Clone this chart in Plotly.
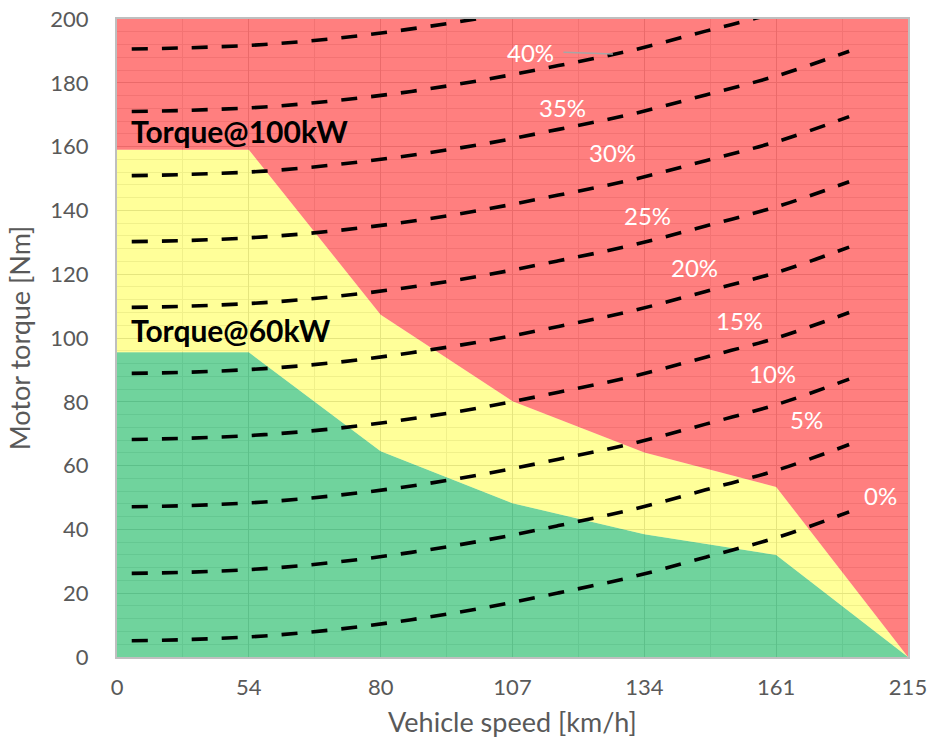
import plotly.graph_objects as go

# Speed categories of the motor operating map (evenly spaced on the x axis)
categories = ["0", "54", "80", "107", "134", "161", "215"]

# Torque limits [Nm] at each speed category
torque_60kw = [95.5, 95.5, 64.5, 48.2, 38.5, 32.0, 0.0]
torque_100kw = [159.0, 159.0, 107.3, 80.2, 64.1, 53.3, 0.0]
torque_ceiling = [200.0, 200.0, 200.0, 200.0, 200.0, 200.0, 200.0]

# Road-load torque curves for different gradients, vs. vehicle speed [km/h]
load_speeds = [4, 20, 40, 60, 80, 100, 120, 140, 160, 180, 199]
grade_labels = ["0%", "5%", "10%", "15%", "20%", "25%", "30%", "35%", "40%", "45%"]
load_torque = [
    [5.1, 5.5, 6.6, 8.7, 11.7, 15.5, 20.1, 25.1, 31.3, 37.7, 45.5],
    [26.2, 26.6, 27.7, 29.8, 32.8, 36.6, 41.2, 46.2, 52.4, 58.8, 66.6],
    [47.1, 47.5, 48.6, 50.7, 53.6, 57.4, 62.0, 66.9, 73.0, 79.4, 87.1],
    [68.2, 68.6, 69.7, 71.7, 74.7, 78.4, 83.0, 87.9, 94.0, 100.3, 108.0],
    [88.9, 89.3, 90.4, 92.4, 95.4, 99.1, 103.6, 108.5, 114.6, 120.8, 128.5],
    [109.6, 110.0, 111.1, 113.1, 116.0, 119.7, 124.2, 129.1, 135.1, 141.4, 149.0],
    [130.2, 130.6, 131.7, 133.7, 136.6, 140.3, 144.8, 149.6, 155.6, 161.8, 169.4],
    [150.9, 151.3, 152.3, 154.4, 157.3, 160.9, 165.4, 170.2, 176.2, 182.4, 189.9],
    [171.0, 171.4, 172.4, 174.5, 177.3, 181.0, 185.4, 190.2, 196.2, 202.3, 209.8],
    [190.6, 191.0, 192.0, 194.0, 196.9, 200.5, 204.9, 209.6, 215.5, 221.6, 229.0],
]

FONT = "Lato"
GREY = "#595959"

cat_pos = list(range(len(categories)))

fig = go.Figure()

# Operating regions: green up to 60 kW, yellow up to 100 kW, red above
fig.add_trace(go.Scatter(x=cat_pos, y=torque_60kw, mode="lines", line=dict(width=0),
                         fill="tozeroy", fillcolor="rgba(0,176,80,0.56)", hoverinfo="skip"))
fig.add_trace(go.Scatter(x=cat_pos, y=torque_100kw, mode="lines", line=dict(width=0),
                         fill="tonexty", fillcolor="rgba(255,255,0,0.40)", hoverinfo="skip"))
fig.add_trace(go.Scatter(x=cat_pos, y=torque_ceiling, mode="lines", line=dict(width=0),
                         fill="tonexty", fillcolor="rgba(255,0,0,0.50)", hoverinfo="skip"))

# Road-load curves on a hidden linear speed axis
for values in load_torque:
    fig.add_trace(go.Scatter(x=load_speeds, y=values, xaxis="x2", yaxis="y",
                             mode="lines", line=dict(color="black", width=3.6,
                                                     dash="16px,14px", shape="spline"),
                             hoverinfo="skip"))

# Gradient labels (speed, torque) placed above each curve
label_spots = [(207.4, 50.7), (187.5, 74.3), (178.3, 89.0), (169.3, 105.6),
               (157.1, 122.2), (144.1, 138.5), (134.8, 158.0), (121.2, 172.4),
               (112.3, 189.4)]
for text, (sx, sy) in zip(grade_labels, label_spots):
    fig.add_annotation(x=sx, y=sy, xref="x2", yref="y", text=text, showarrow=False,
                       font=dict(family=FONT, size=24, color="white"))

# Leader line from the 40% label to its curve
fig.add_annotation(x=134.8, y=189.0, xref="x2", yref="y", text="", showarrow=True,
                   arrowhead=0, arrowwidth=1.5, arrowcolor="#A6A6A6", ax=-51, ay=-2)

# Power-limit captions
fig.add_annotation(x=0.09, y=164.9, xref="x", yref="y", text="<b>Torque@100kW</b>",
                   showarrow=False, xanchor="left", yanchor="middle",
                   font=dict(family=FONT, size=30, color="black"))
fig.add_annotation(x=0.09, y=102.5, xref="x", yref="y", text="<b>Torque@60kW</b>",
                   showarrow=False, xanchor="left", yanchor="middle",
                   font=dict(family=FONT, size=30, color="black"))

grid_major = "#D4D4D4"
grid_minor = "#E6E6E6"
border = "#BFBFBF"

fig.update_layout(
    width=932, height=747,
    margin=dict(l=117, r=24, t=19, b=90),
    paper_bgcolor="white", plot_bgcolor="white",
    showlegend=False,
    xaxis=dict(
        range=[0, len(categories) - 1], tickmode="array", tickvals=cat_pos,
        ticktext=categories, showgrid=True, gridcolor=grid_major, gridwidth=1.3,
        minor=dict(tickmode="array", tickvals=[p + 0.5 for p in cat_pos[:-1]],
                   showgrid=True, gridcolor=grid_minor, gridwidth=1),
        zeroline=False, showline=True, mirror=True, linecolor=border, linewidth=2,
        ticks="", ticklabelstandoff=10, automargin=False,
        tickfont=dict(family=FONT, size=22, color=GREY),
        title=dict(text="Vehicle speed [km/h]", font=dict(family=FONT, size=27, color=GREY),
                   standoff=14),
    ),
    xaxis2=dict(overlaying="x", range=[0, 215], visible=False),
    yaxis=dict(
        range=[0, 200], tickmode="linear", tick0=0, dtick=20,
        showgrid=True, gridcolor=grid_major, gridwidth=1.3,
        minor=dict(tickmode="linear", tick0=0, dtick=4, showgrid=True,
                   gridcolor=grid_minor, gridwidth=1),
        zeroline=False, showline=True, mirror=True, linecolor=border, linewidth=2,
        ticks="", ticklabelstandoff=22, automargin=False,
        tickfont=dict(family=FONT, size=22, color=GREY),
        title=dict(text="Motor torque [Nm]", font=dict(family=FONT, size=27, color=GREY),
                   standoff=12),
    ),
)

fig.write_html("out.html")
